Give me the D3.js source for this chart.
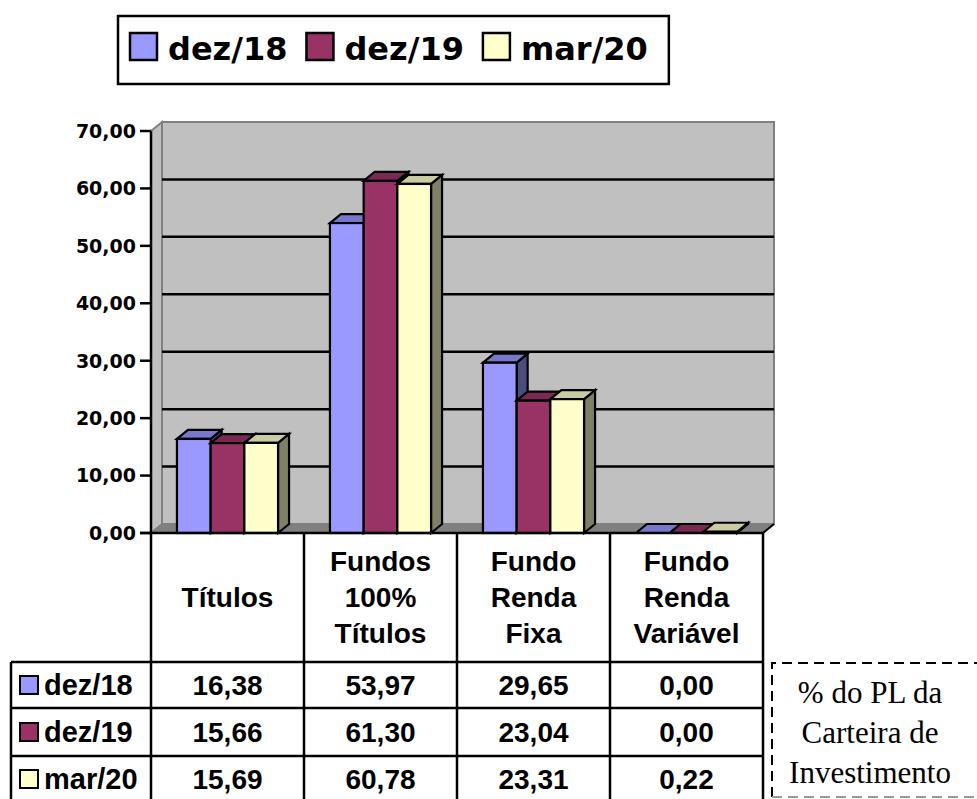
<!DOCTYPE html>
<html>
<head>
<meta charset="utf-8">
<script src="https://cdn.jsdelivr.net/npm/d3@7"></script>
<style>
  html, body { margin: 0; padding: 0; background: #ffffff; }
  svg { display: block; }
</style>
</head>
<body>
<svg id="chart" width="977" height="799"></svg>
<script>
// ---- DATA ----
const categories = ["Títulos", "Fundos 100% Títulos", "Fundo Renda Fixa", "Fundo Renda Variável"];
const categoryLines = [["Títulos"], ["Fundos", "100%", "Títulos"], ["Fundo", "Renda", "Fixa"], ["Fundo", "Renda", "Variável"]];
const seriesNames = ["dez/18", "dez/19", "mar/20"];
const dez18 = [16.38, 53.97, 29.65, 0.00];
const dez19 = [15.66, 61.30, 23.04, 0.00];
const mar20 = [15.69, 60.78, 23.31, 0.22];
const yTickValues = [0, 10, 20, 30, 40, 50, 60, 70];
const noteLines = ["% do PL da", "Carteira de", "Investimento"];

const seriesValues = [dez18, dez19, mar20];
const frontColors = ["#9999FF", "#993366", "#FFFFCC"];
const topColors = ["#7777CC", "#7A2952", "#CCCCA3"];
const sideColors = ["#4D4D80", "#4D1A33", "#808066"];

const ptBR = d3.formatLocale({ decimal: ",", thousands: ".", grouping: [3], currency: ["R$", ""] });
const fmt = ptBR.format(".2f");

const svg = d3.select("#chart");
const DX = 11, DY = 9;

// ---- SCALES ----
const y = d3.scaleLinear().domain([0, 70]).range([533, 131]);
const x0 = d3.scaleBand().domain(categories).range([151, 763]).paddingInner(0).paddingOuter(0);
const x1 = d3.scaleBand().domain(seriesNames).range([0, x0.bandwidth()]).paddingInner(0).paddingOuter(0.77);

const left = x0.range()[0], right = x0.range()[1];
const y0 = y(0), yTop = y(70);

// ---- WALLS ----
const walls = svg.append("g");
walls.append("polygon")
  .attr("points", [[left, yTop], [left + DX, yTop - DY], [left + DX, y0 - DY], [left, y0]].join(" "))
  .attr("fill", "#C0C0C0").attr("stroke", "#808080").attr("stroke-width", 2);
walls.append("rect")
  .attr("x", left + DX).attr("y", yTop - DY)
  .attr("width", right - left).attr("height", y0 - yTop)
  .attr("fill", "#C0C0C0").attr("stroke", "#808080").attr("stroke-width", 2);
walls.append("polygon")
  .attr("points", [[left, y0], [left + DX, y0 - DY], [right + DX, y0 - DY], [right, y0]].join(" "))
  .attr("fill", "#808080").attr("stroke", "#808080").attr("stroke-width", 1);

// gridlines on back wall
walls.selectAll("line.grid").data(yTickValues.filter(v => v > 0 && v < 70)).join("line")
  .attr("class", "grid")
  .attr("x1", left + DX).attr("x2", right + DX)
  .attr("y1", d => y(d) - DY).attr("y2", d => y(d) - DY)
  .attr("stroke", "#000").attr("stroke-width", 2.5);

// ---- BARS ----
const bars = svg.append("g").attr("stroke", "#000").attr("stroke-width", 2.2).attr("stroke-linejoin", "miter");
categories.forEach((cat, i) => {
  seriesNames.forEach((s, j) => {
    const v = seriesValues[j][i];
    const bx = x0(cat) + x1(s), w = x1.bandwidth(), ty = y(v);
    bars.append("polygon")
      .attr("points", [[bx + w, ty], [bx + w + DX, ty - DY], [bx + w + DX, y0 - DY], [bx + w, y0]].join(" "))
      .attr("fill", sideColors[j]);
    bars.append("polygon")
      .attr("points", [[bx, ty], [bx + DX, ty - DY], [bx + w + DX, ty - DY], [bx + w, ty]].join(" "))
      .attr("fill", topColors[j]);
    bars.append("rect")
      .attr("x", bx).attr("y", ty).attr("width", w).attr("height", Math.max(0, y0 - ty))
      .attr("fill", frontColors[j]);
  });
});

// ---- AXES ----
const axis = svg.append("g");
axis.append("line").attr("x1", left).attr("x2", left).attr("y1", yTop).attr("y2", 802)
  .attr("stroke", "#000").attr("stroke-width", 2.5);
axis.append("line").attr("x1", left - 11).attr("x2", right).attr("y1", y0).attr("y2", y0)
  .attr("stroke", "#000").attr("stroke-width", 2.5);
axis.append("line").attr("x1", right).attr("x2", right + DX).attr("y1", y0).attr("y2", y0 - DY)
  .attr("stroke", "#000").attr("stroke-width", 2);
axis.selectAll("line.tick").data(yTickValues).join("line")
  .attr("class", "tick")
  .attr("x1", left - 11).attr("x2", left)
  .attr("y1", d => y(d)).attr("y2", d => y(d))
  .attr("stroke", "#000").attr("stroke-width", 2.5);
axis.selectAll("text.ytl").data(yTickValues).join("text")
  .attr("class", "ytl")
  .attr("x", left - 15).attr("y", d => y(d))
  .attr("dy", "0.36em")
  .attr("text-anchor", "end")
  .attr("font-family", "DejaVu Sans, sans-serif").attr("font-weight", "bold").attr("font-size", 19)
  .text(d => fmt(d));

// ---- DATA TABLE ----
const table = svg.append("g");
const rowTops = [662, 708, 756, 802];
const tableLeft = 11;
const tableFont = "Liberation Sans, Arial, sans-serif";
categories.forEach((cat, i) => {
  const xr = x0(cat) + x0.bandwidth();
  table.append("line").attr("x1", xr).attr("x2", xr).attr("y1", y0).attr("y2", 802)
    .attr("stroke", "#000").attr("stroke-width", 2.5);
});
table.append("line").attr("x1", tableLeft).attr("x2", tableLeft).attr("y1", rowTops[0]).attr("y2", 802)
  .attr("stroke", "#000").attr("stroke-width", 2.5);
rowTops.forEach(t => {
  table.append("line").attr("x1", tableLeft).attr("x2", right).attr("y1", t).attr("y2", t)
    .attr("stroke", "#000").attr("stroke-width", 2.5);
});
const headerCenter = (y0 + rowTops[0]) / 2;
categories.forEach((cat, i) => {
  const lines = categoryLines[i];
  const cx = x0(cat) + x0.bandwidth() / 2;
  lines.forEach((ln, k) => {
    table.append("text")
      .attr("x", cx).attr("y", headerCenter + (k - (lines.length - 1) / 2) * 36 + 9)
      .attr("text-anchor", "middle")
      .attr("font-family", tableFont).attr("font-weight", "bold").attr("font-size", 28)
      .text(ln);
  });
});
seriesNames.forEach((s, j) => {
  const cy = (rowTops[j] + rowTops[j + 1]) / 2;
  table.append("rect").attr("x", 20).attr("y", cy - 9).attr("width", 18).attr("height", 18)
    .attr("fill", frontColors[j]).attr("stroke", "#000").attr("stroke-width", 2);
  table.append("text").attr("x", 44).attr("y", cy + 10)
    .attr("font-family", tableFont).attr("font-weight", "bold").attr("font-size", 29)
    .text(s);
  categories.forEach((cat, i) => {
    table.append("text")
      .attr("x", x0(cat) + x0.bandwidth() / 2).attr("y", cy + 10)
      .attr("text-anchor", "middle")
      .attr("font-family", tableFont).attr("font-weight", "bold").attr("font-size", 28)
      .text(fmt(seriesValues[j][i]));
  });
});

// ---- NOTE BOX ----
const note = svg.append("g");
note.append("path")
  .attr("d", "M 772 797 L 772 663 L 990 663")
  .attr("fill", "none").attr("stroke", "#000").attr("stroke-width", 2).attr("stroke-dasharray", "10,6");
note.append("line").attr("x1", 772).attr("x2", 990).attr("y1", 797).attr("y2", 797)
  .attr("stroke", "#999").attr("stroke-width", 2).attr("stroke-dasharray", "10,6");
noteLines.forEach((ln, k) => {
  note.append("text").attr("x", 870).attr("y", 703 + k * 40)
    .attr("text-anchor", "middle")
    .attr("font-family", "Liberation Serif, Times New Roman, serif").attr("font-size", 31)
    .text(ln);
});

// ---- LEGEND ----
const legend = svg.append("g");
const legendBox = legend.append("rect")
  .attr("x", 118).attr("y", 16).attr("height", 68)
  .attr("fill", "#fff").attr("stroke", "#000").attr("stroke-width", 2.5);
let lx = 130;
seriesNames.forEach((s, j) => {
  legend.append("rect").attr("x", lx).attr("y", 33).attr("width", 27).attr("height", 27)
    .attr("fill", frontColors[j]).attr("stroke", "#000").attr("stroke-width", 2.5);
  const t = legend.append("text").attr("x", lx + 38).attr("y", 60)
    .attr("font-family", "DejaVu Sans, sans-serif").attr("font-weight", "bold").attr("font-size", 32)
    .text(s);
  lx = lx + 38 + t.node().getComputedTextLength() + 19;
});
legendBox.attr("width", lx - 19 + 21 - 118);
</script>
</body>
</html>
